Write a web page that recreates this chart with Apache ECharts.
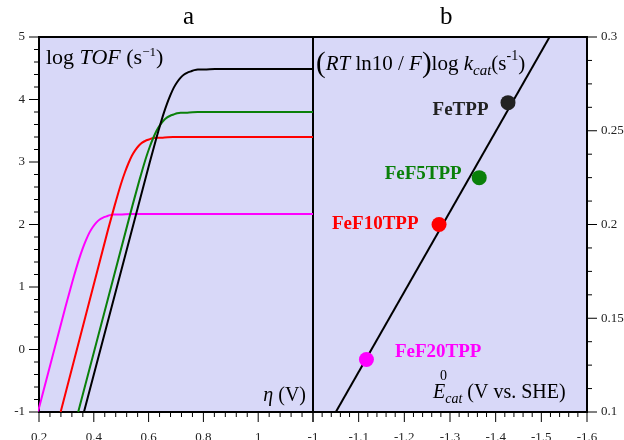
<!DOCTYPE html>
<html><head><meta charset="utf-8">
<script src="https://cdn.jsdelivr.net/npm/echarts@6/dist/echarts.min.js"></script>
<style>html,body{margin:0;padding:0;background:#fff}#c{width:624px;height:440px}</style>
</head><body><div id="c"></div>
<script>
// Panel a: log TOF vs overpotential
const etaMagenta = [0.196, 0.2965, 0.309, 0.3215, 0.334, 0.3465, 0.359, 0.3715, 0.384, 0.3965, 0.409, 0.4215, 0.434, 0.4465, 0.459, 0.4715, 0.4965, 0.534, 1.2];
const logTofMagenta = [-1.00, 0.68, 0.88, 1.08, 1.27, 1.45, 1.61, 1.75, 1.87, 1.96, 2.03, 2.08, 2.11, 2.13, 2.15, 2.16, 2.16, 2.17, 2.17];
const etaRed = [0.279, 0.4515, 0.464, 0.4765, 0.489, 0.5015, 0.514, 0.5265, 0.539, 0.5515, 0.564, 0.5765, 0.589, 0.6015, 0.614, 0.6265, 0.6515, 0.689, 1.2];
const logTofRed = [-1.00, 1.91, 2.11, 2.31, 2.50, 2.68, 2.84, 2.98, 3.10, 3.19, 3.26, 3.31, 3.34, 3.36, 3.38, 3.39, 3.39, 3.40, 3.40];
const etaGreen = [0.343, 0.5415, 0.554, 0.5665, 0.579, 0.5915, 0.604, 0.6165, 0.629, 0.6415, 0.654, 0.6665, 0.679, 0.6915, 0.704, 0.7165, 0.7415, 0.779, 1.2];
const logTofGreen = [-1.00, 2.31, 2.51, 2.71, 2.90, 3.08, 3.24, 3.38, 3.50, 3.59, 3.66, 3.71, 3.74, 3.76, 3.78, 3.79, 3.79, 3.80, 3.80];
const etaBlack = [0.364, 0.6045, 0.617, 0.6295, 0.642, 0.6545, 0.667, 0.6795, 0.692, 0.7045, 0.717, 0.7295, 0.742, 0.7545, 0.767, 0.7795, 0.8045, 0.842, 1.2];
const logTofBlack = [-1.00, 3.00, 3.20, 3.40, 3.59, 3.77, 3.93, 4.07, 4.19, 4.28, 4.35, 4.40, 4.43, 4.45, 4.47, 4.48, 4.48, 4.49, 4.49];

// Panel b: catalysts
const catalysts = ['FeTPP', 'FeF5TPP', 'FeF10TPP', 'FeF20TPP'];
const e0cat = [-1.427, -1.364, -1.276, -1.117];
const rtLogKcat = [0.265, 0.225, 0.200, 0.128];
const fitE = [-1.05, -1.518];
const fitY = [0.1, 0.3];

// Tick values
const majorXa = [0.2, 0.4, 0.6, 0.8, 1.0, 1.2];
const minorXa = [0.24, 0.28, 0.32, 0.36, 0.44, 0.48, 0.52, 0.56, 0.64, 0.68, 0.72, 0.76, 0.84, 0.88, 0.92, 0.96, 1.04, 1.08, 1.12, 1.16];
const majorYa = [-1, 0, 1, 2, 3, 4, 5];
const minorYa = [-0.8, -0.6, -0.4, -0.2, 0.2, 0.4, 0.6, 0.8, 1.2, 1.4, 1.6, 1.8, 2.2, 2.4, 2.6, 2.8, 3.2, 3.4, 3.6, 3.8, 4.2, 4.4, 4.6, 4.8];
const majorXb = [-1, -1.1, -1.2, -1.3, -1.4, -1.5, -1.6];
const minorXb = [-1.02, -1.04, -1.06, -1.08, -1.12, -1.14, -1.16, -1.18, -1.22, -1.24, -1.26, -1.28, -1.32, -1.34, -1.36, -1.38, -1.42, -1.44, -1.46, -1.48, -1.52, -1.54, -1.56, -1.58];
const majorYb = [0.1, 0.15, 0.2, 0.25, 0.3];
const minorYb = [0.1125, 0.125, 0.1375, 0.1625, 0.175, 0.1875, 0.2125, 0.225, 0.2375, 0.2625, 0.275, 0.2875];

const zip = (a, b) => a.map((v, i) => [v, b[i]]);
const SERIF = 'Liberation Serif';
const catColors = ['#222222', '#0a800a', '#ff0000', '#ff00ff'];
const labelCfg = [
  {position: 'left', distance: 12, offset: [0, 7]},
  {position: 'left', distance: 10, offset: [0, -4]},
  {position: 'left', distance: 13, offset: [0, 0]},
  {position: 'right', distance: 21, offset: [0, -7]}
];

// tick items: [x, y, direction(0 down,1 left,2 right), length]
const ticksA = [].concat(
  majorXa.map(v => [v, -1, 0, 10]), minorXa.map(v => [v, -1, 0, 5]),
  majorYa.map(v => [0.2, v, 1, 10]), minorYa.map(v => [0.2, v, 1, 5]));
const ticksB = [].concat(
  majorXb.map(v => [v, 0.1, 0, 10]), minorXb.map(v => [v, 0.1, 0, 5]),
  majorYb.map(v => [-1.6, v, 2, 10]), minorYb.map(v => [-1.6, v, 2, 5]));
const renderTick = (params, api) => {
  const p = api.coord([api.value(0), api.value(1)]);
  const dir = api.value(2), len = api.value(3);
  let x2 = p[0], y2 = p[1];
  if (dir === 0) y2 = p[1] + len; else if (dir === 1) x2 = p[0] - len; else x2 = p[0] + len;
  return {type: 'line', shape: {x1: p[0], y1: p[1], x2, y2}, style: {stroke: '#000', lineWidth: 1}};
};

const tickLabel = () => ({color: '#222', fontFamily: SERIF, fontSize: 13});
const gridBase = () => ({top: 37, width: 274, height: 375, containLabel: false, outerBoundsMode: 'none',
  show: true, backgroundColor: '#d8d8f8', borderColor: '#000', borderWidth: 2});
const axisCommon = (extra) => Object.assign({type: 'value',
  axisLine: {show: false, onZero: false}, axisTick: {show: false}, splitLine: {show: false}}, extra);

const chart = echarts.init(document.getElementById('c'), null, {renderer: 'canvas'});
chart.setOption({
  animation: false,
  backgroundColor: '#fff',
  grid: [
    Object.assign(gridBase(), {left: 39}),
    Object.assign(gridBase(), {left: 313})
  ],
  xAxis: [
    axisCommon({gridIndex: 0, position: 'bottom', min: 0.2, max: 1.2, interval: 0.2,
      axisLabel: Object.assign({margin: 19, showMaxLabel: false}, tickLabel())}),
    axisCommon({gridIndex: 1, position: 'bottom', min: -1.6, max: -1, interval: 0.1, inverse: true,
      axisLabel: Object.assign({margin: 19}, tickLabel())})
  ],
  yAxis: [
    axisCommon({gridIndex: 0, position: 'left', min: -1, max: 5, interval: 1,
      axisLabel: Object.assign({margin: 14}, tickLabel())}),
    axisCommon({gridIndex: 1, position: 'right', min: 0.1, max: 0.3, interval: 0.05,
      axisLabel: Object.assign({margin: 14}, tickLabel())})
  ],
  series: [
    {type: 'line', xAxisIndex: 0, yAxisIndex: 0, data: zip(etaMagenta, logTofMagenta), showSymbol: false, smooth: 0.2,
     lineStyle: {color: '#ff00ff', width: 2}},
    {type: 'line', xAxisIndex: 0, yAxisIndex: 0, data: zip(etaRed, logTofRed), showSymbol: false, smooth: 0.2,
     lineStyle: {color: '#ff0000', width: 2}},
    {type: 'line', xAxisIndex: 0, yAxisIndex: 0, data: zip(etaGreen, logTofGreen), showSymbol: false, smooth: 0.2,
     lineStyle: {color: '#0a800a', width: 2}},
    {type: 'line', xAxisIndex: 0, yAxisIndex: 0, data: zip(etaBlack, logTofBlack), showSymbol: false, smooth: 0.2,
     lineStyle: {color: '#000', width: 2}},
    {type: 'line', xAxisIndex: 1, yAxisIndex: 1, data: zip(fitE, fitY), showSymbol: false,
     lineStyle: {color: '#000', width: 2}},
    {type: 'scatter', xAxisIndex: 1, yAxisIndex: 1, symbolSize: 15, z: 5,
     data: catalysts.map((name, i) => ({
       name, value: [e0cat[i], rtLogKcat[i]],
       itemStyle: {color: catColors[i], opacity: 1},
       label: Object.assign({show: true, formatter: name, color: catColors[i], fontFamily: SERIF,
         fontWeight: 'bold', fontSize: 19}, labelCfg[i])
     }))},
    {type: 'custom', xAxisIndex: 0, yAxisIndex: 0, data: ticksA, renderItem: renderTick, clip: false, silent: true, z: 10,
     encode: {x: 0, y: 1}},
    {type: 'custom', xAxisIndex: 1, yAxisIndex: 1, data: ticksB, renderItem: renderTick, clip: false, silent: true, z: 10,
     encode: {x: 0, y: 1}}
  ],
  graphic: [
    {type: 'text', left: 183, top: 5, style: {text: 'a', font: '25px "Liberation Serif"', fill: '#000'}},
    {type: 'text', left: 440, top: 5, style: {text: 'b', font: '25px "Liberation Serif"', fill: '#000'}},
    {type: 'text', x: 46, y: 58, style: {
      text: '{n|log }{i|TOF}{n| (s}{sup|\u22121}{n|)}', verticalAlign: 'middle', align: 'left',
      rich: {
        n: {fontFamily: SERIF, fontSize: 22, lineHeight: 24, color: '#000'},
        i: {fontFamily: SERIF, fontSize: 22, fontStyle: 'italic', lineHeight: 24, color: '#000'},
        sup: {fontFamily: SERIF, fontSize: 13, lineHeight: 14, verticalAlign: 'top', color: '#000'}
      }}},
    {type: 'text', x: 306, y: 396, style: {
      text: '{i|\u03b7}{n| (V)}', align: 'right', verticalAlign: 'middle',
      rich: {
        n: {fontFamily: SERIF, fontSize: 20, lineHeight: 24, color: '#000'},
        i: {fontFamily: SERIF, fontSize: 20, fontStyle: 'italic', lineHeight: 24, color: '#000'}
      }}},
    {type: 'text', x: 316, y: 64, style: {
      text: '{p|(}{i|RT}{n| ln10 / }{i|F}{p|)}{n|log }{i|k}{sub|cat}{n|(s}{sup|-1}{n|)}', align: 'left', verticalAlign: 'middle',
      rich: {
        p: {fontFamily: SERIF, fontSize: 29, lineHeight: 30, color: '#000'},
        n: {fontFamily: SERIF, fontSize: 21, lineHeight: 30, color: '#000'},
        i: {fontFamily: SERIF, fontSize: 21, fontStyle: 'italic', lineHeight: 30, color: '#000'},
        sub: {fontFamily: SERIF, fontSize: 15, fontStyle: 'italic', lineHeight: 18, verticalAlign: 'bottom', color: '#000'},
        sup: {fontFamily: SERIF, fontSize: 14, lineHeight: 20, verticalAlign: 'top', color: '#000'}
      }}},
    {type: 'text', x: 433, y: 393, style: {
      text: '{i|E}{sub|cat}{n| (V vs. SHE)}', align: 'left', verticalAlign: 'middle',
      rich: {
        n: {fontFamily: SERIF, fontSize: 20, lineHeight: 26, color: '#000'},
        i: {fontFamily: SERIF, fontSize: 20, fontStyle: 'italic', lineHeight: 26, color: '#000'},
        sub: {fontFamily: SERIF, fontSize: 14, fontStyle: 'italic', lineHeight: 18, verticalAlign: 'bottom', color: '#000'}
      }}},
    {type: 'text', x: 440, y: 369, style: {text: '0', font: '14px "Liberation Serif"', fill: '#000'}}
  ]
});
</script>
</body></html>
